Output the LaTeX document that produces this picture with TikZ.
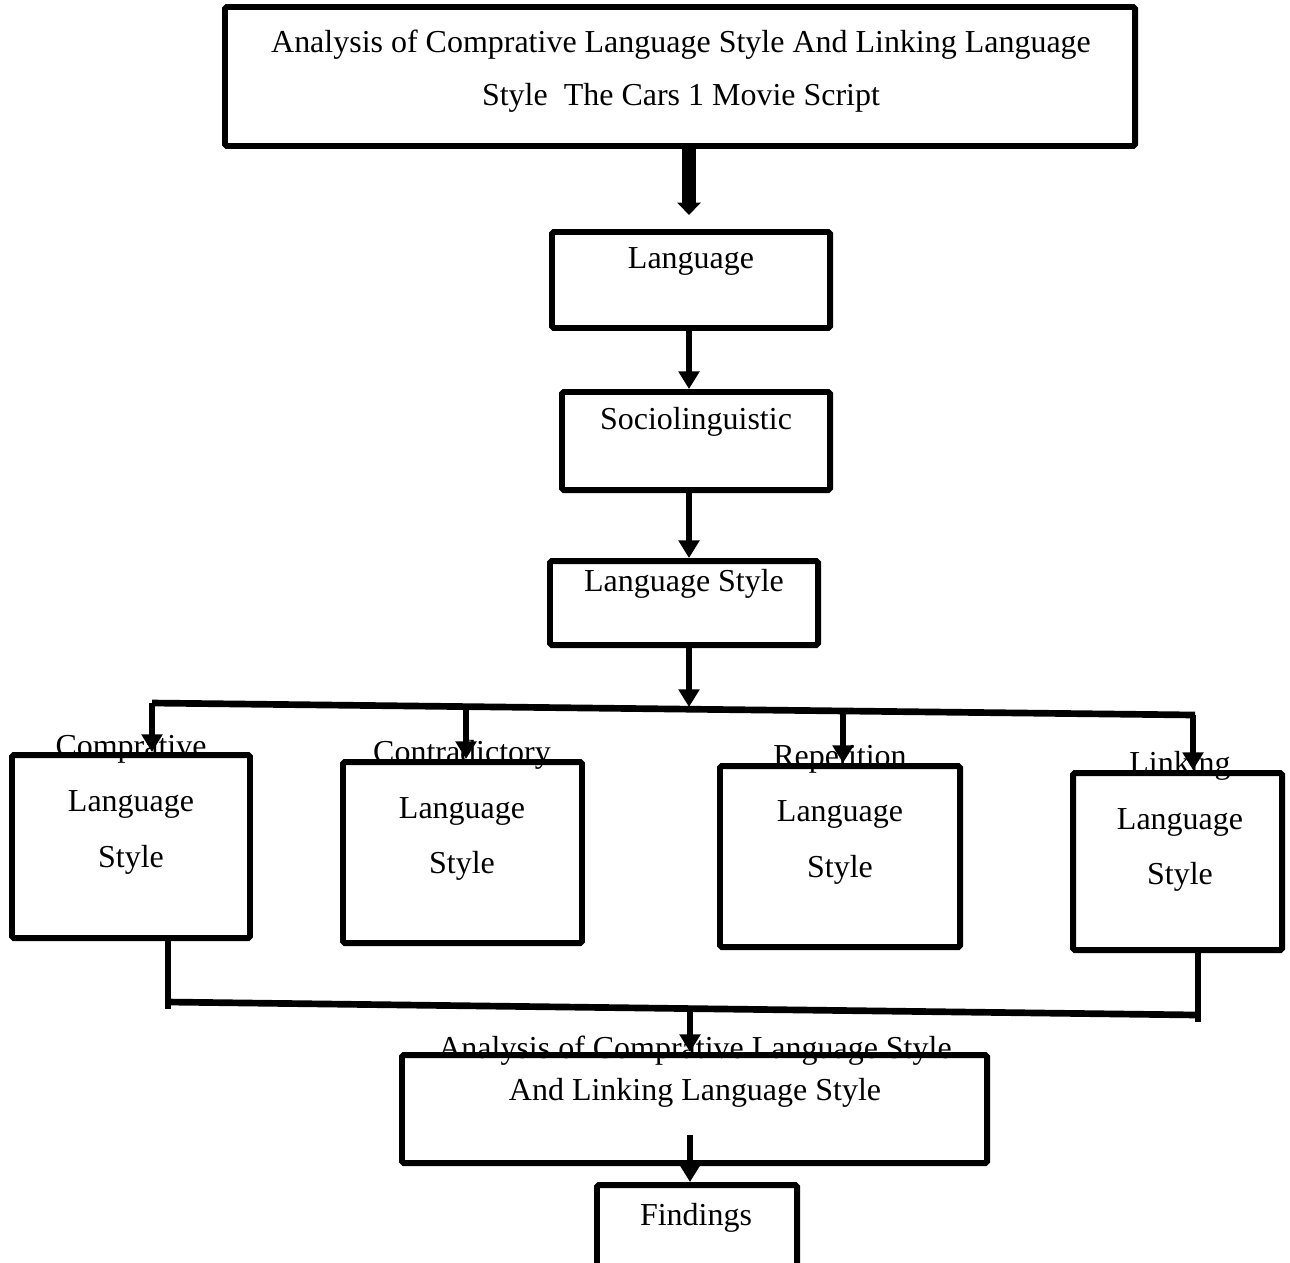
\documentclass[tikz,border=0pt]{standalone}
\usepackage{fontspec}
\setmainfont{Liberation Serif}
\usetikzlibrary{arrows.meta,fit}

\begin{document}
\begin{tikzpicture}[x=.02cm,y=-.02cm,font=\fontsize{18.2}{31.5}\selectfont,
 box/.style={draw,line width=3.4pt,rounded corners=1pt,inner sep=0pt},
 txt/.style={align=center,inner sep=0pt,yshift=-2pt},
 link/.style={line width=3.8pt},
 flow/.style={link,-{Triangle[length=10pt,width=11.5pt]}},
 bigflow/.style={line width=7.5pt,-{Triangle[length=7pt,width=13pt]}}]
\path[use as bounding box] (0,0) rectangle (1290,1262);
\coordinate (spine) at (689,0);

% main chain
\node[box,fit={(225,7) (1135,146)}] (title) {};
\node[txt,font=\fontsize{18.2}{30}\selectfont] (titletxt) at (681,68)
 {Analysis of Comprative Language Style And Linking Language\\Style \ The Cars 1 Movie Script};
\node[box,fit={(552,232) (830,328)}] (lang) {};
\node[txt] (langtxt) at (691,258) {Language};
\node[box,fit={(562,392) (830,490)}] (socio) {};
\node[txt] (sociotxt) at (696,418) {Sociolinguistic};
\node[box,fit={(550,561) (818,645)}] (style) {};
\node[txt] (styletxt) at (684,580) {Language Style};

\draw[bigflow] (spine |- title.south) -- ++(0,66);
\draw[flow] (spine |- lang.south) -- (spine |- socio.north);
\draw[flow] (spine |- socio.south) -- (spine |- style.north);
\coordinate (hub) at (689,707);
\draw[flow] (spine |- style.south) -- (hub);

% four kinds of style, hung from a slightly tilted bar
\coordinate (bl) at (152,703);
\coordinate (br) at (1195,715);
\draw[link] (bl) -- (br);
\node[box,fit={(12,755) (250,938)}] (cmp) {};
\node[box,fit={(343,762) (582,943)}] (con) {};
\node[box,fit={(720,766) (960,947)}] (rep) {};
\node[box,fit={(1073,773) (1282,950)}] (lnk) {};
\foreach \x/\y/\n/\w/\c/\t in {152/703/cmp/Comprative/131/801,466/707/con/Contradictory/462/807,
 843/711/rep/Repetition/840/811,1193/715/lnk/Linking/1180/818} {
 \node[txt] (\n txt) at (\c,\t) {\w\\Language\\Style};
 \coordinate (t\n) at (\x,\y);
 \draw[flow] (t\n) -- (t\n |- \n.north);
}

% merge into the analysis
\coordinate (ml) at (168,1002);
\coordinate (mr) at (1198,1015);
\draw[link] (ml |- cmp.south) -- ([yshift=-4pt]ml);
\draw[link] ([yshift=3pt]mr |- lnk.south) -- ([yshift=-4pt]mr);
\draw[link] (ml) -- (mr);
\node[box,fit={(402,1055) (987,1163)}] (ana) {};
\node[txt,font=\fontsize{18.2}{24}\selectfont] (anatxt) at (695,1068)
 {Analysis of Comprative Language Style\\And Linking Language Style};
\coordinate (mid) at (690,1008);
\coordinate (midend) at (690,1052);
\draw[flow] (mid) -- (midend);

\node[box,fit={(597,1185) (797,1280)}] (find) {};
\node[txt] (findtxt) at (696,1214) {Findings};
\coordinate (anaout) at (690,1135);
\draw[flow] (anaout) -- (anaout |- find.north);
\end{tikzpicture}
\end{document}
